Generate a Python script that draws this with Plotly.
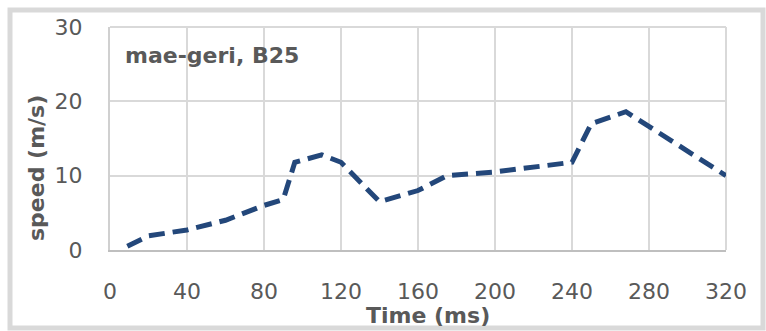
import plotly.graph_objects as go

# Speed profile of the kick over time
time_ms = [9, 20, 40, 60, 80, 90, 96, 110, 120, 140, 160, 175, 200, 220, 240, 250, 268, 320]
speed_ms = [0.5, 1.9, 2.7, 4.0, 6.0, 6.8, 11.8, 12.8, 11.8, 6.5, 8.0, 10.0, 10.5, 11.2, 11.8, 17.0, 18.6, 10.0]

x_ticks = [0, 40, 80, 120, 160, 200, 240, 280, 320]
y_ticks = [0, 10, 20, 30]

label = "mae-geri, B25"
x_title = "Time (ms)"
y_title = "speed (m/s)"

FONT = "DejaVu Sans, Liberation Sans, sans-serif"
GREY_TXT = "#595959"
GRID = "#d9d9d9"

fig = go.Figure()
fig.add_trace(go.Scatter(
    x=time_ms, y=speed_ms, mode="lines",
    line=dict(color="#23477a", width=5, dash="16px,8px"),
    showlegend=False, hoverinfo="skip",
))

# plot area spans px 110..726 horizontally and 27..250 vertically
L, R, T, B = 110, 726, 27, 250
W, H = 766, 331
pw, ph = R - L, B - T

def px_x(p):
    return (p - L) / pw

def px_y(p):
    return (B - p) / ph

fig.update_layout(
    width=W, height=H,
    margin=dict(l=L, r=W - R, t=T, b=H - B),
    paper_bgcolor="white", plot_bgcolor="white",
    font=dict(family=FONT, color=GREY_TXT),
    xaxis=dict(
        range=[0, 320], tickvals=x_ticks, showgrid=True, gridcolor=GRID, gridwidth=2,
        showline=True, linecolor="#bfbfbf", linewidth=2, zeroline=False,
        ticks="", ticklabelstandoff=21,
        tickfont=dict(size=22, color=GREY_TXT, family=FONT),
    ),
    yaxis=dict(
        range=[0, 30], tickvals=y_ticks, showgrid=True, gridcolor=GRID, gridwidth=2,
        showline=True, linecolor="#d0d0d0", linewidth=2, zeroline=False,
        ticks="", ticklabelstandoff=21,
        tickfont=dict(size=22, color=GREY_TXT, family=FONT),
    ),
    shapes=[
        # outer chart frame
        dict(type="rect", xref="paper", yref="paper",
             x0=px_x(10), x1=px_x(763), y0=px_y(328), y1=px_y(10),
             line=dict(color="#d9d9d9", width=5), fillcolor="rgba(0,0,0,0)", layer="below"),
        # right and top grid borders
        dict(type="line", xref="paper", yref="paper", x0=1, x1=1, y0=0, y1=1,
             line=dict(color=GRID, width=2), layer="below"),
        dict(type="line", xref="paper", yref="paper", x0=0, x1=1, y0=1, y1=1,
             line=dict(color=GRID, width=2), layer="below"),
    ],
    annotations=[
        dict(text=f"<b>{label}</b>", xref="paper", yref="paper",
             x=px_x(123), y=px_y(55), xanchor="left", yanchor="middle",
             showarrow=False, font=dict(size=22, color=GREY_TXT, family=FONT)),
        dict(text=f"<b>{x_title}</b>", xref="paper", yref="paper",
             x=px_x(428), y=px_y(315), xanchor="center", yanchor="middle",
             showarrow=False, font=dict(size=22, color=GREY_TXT, family=FONT)),
        dict(text=f"<b>{y_title}</b>", xref="paper", yref="paper",
             x=px_x(36), y=px_y(168), xanchor="center", yanchor="middle",
             textangle=-90, showarrow=False,
             font=dict(size=22, color=GREY_TXT, family=FONT)),
    ],
)

fig.write_html("out.html")
